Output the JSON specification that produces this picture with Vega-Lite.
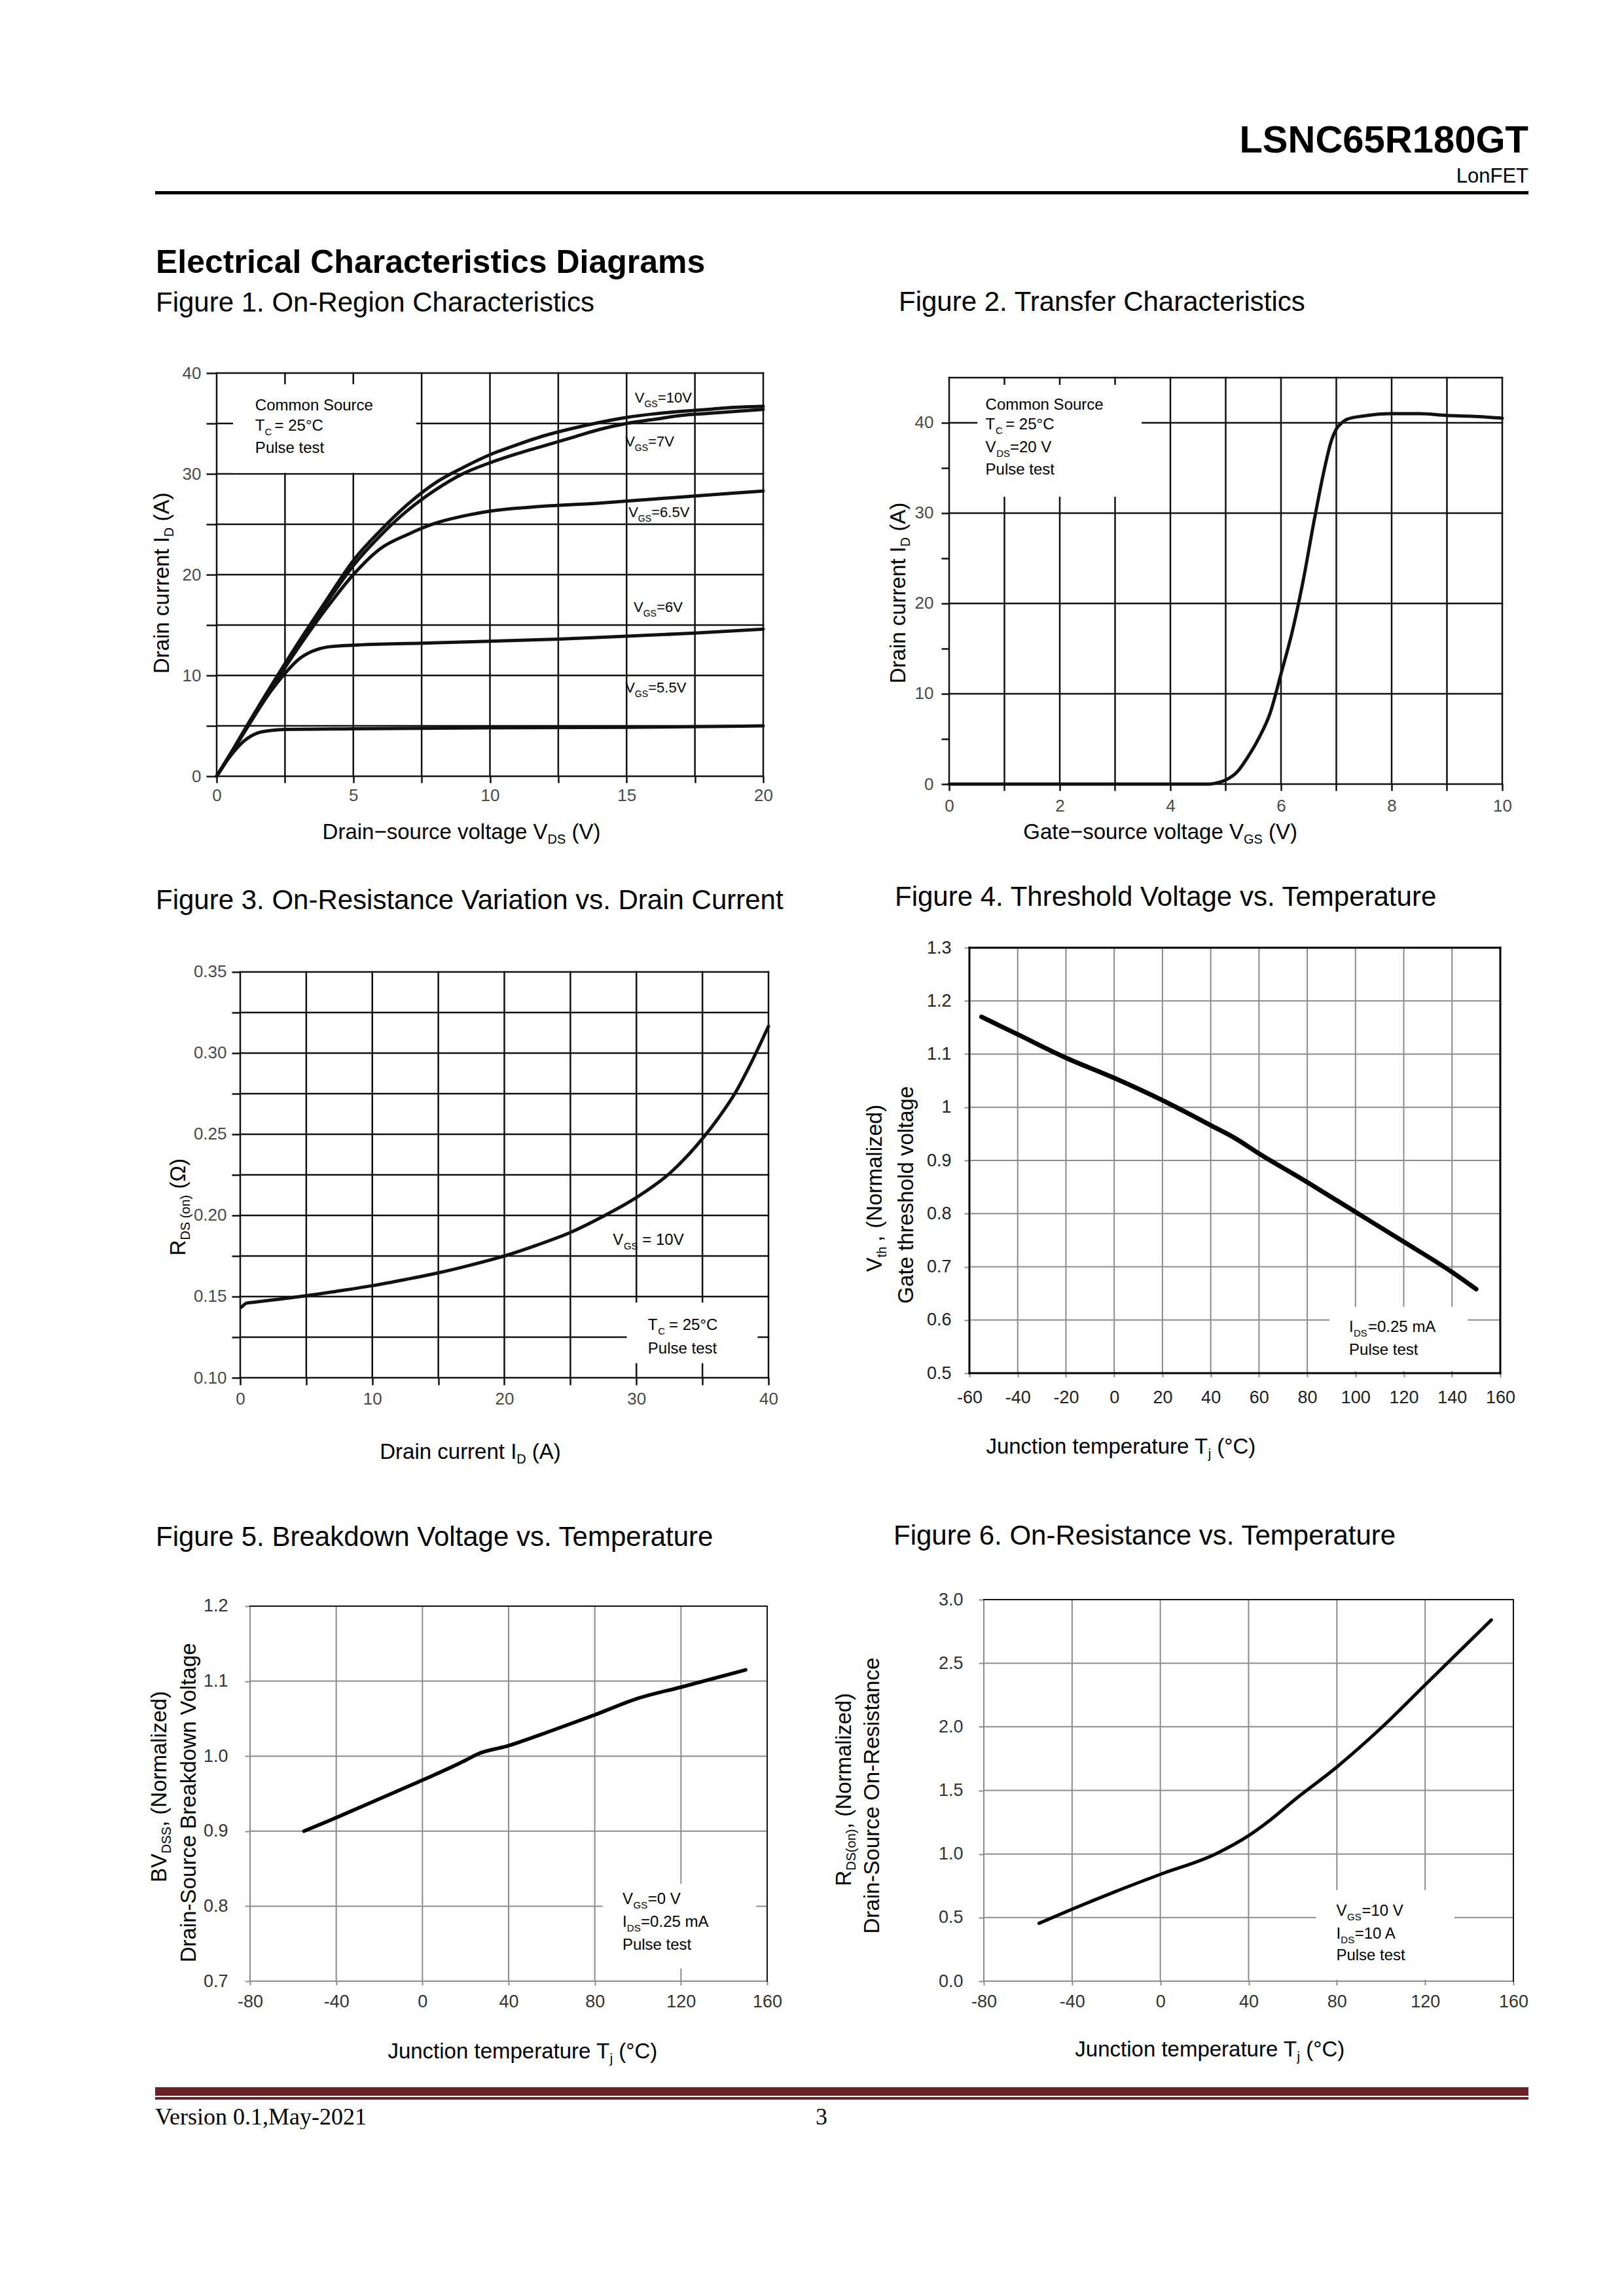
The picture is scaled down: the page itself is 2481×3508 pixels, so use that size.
{
  "$schema": "https://vega.github.io/schema/vega-lite/v6.json",
  "background": "white",
  "padding": 0,
  "autosize": {"type": "pad"},
  "columns": 3,
  "spacing": {"row": 0, "column": 0},
  "bounds": "flush",
  "align": "each",
  "datasets": {
    "f1": [
      {"s":"10V","x":0,"y":0},{"s":"10V","x":0.5,"y":2.2},{"s":"10V","x":1,"y":4.5},{"s":"10V","x":2,"y":9},{"s":"10V","x":3,"y":13.3},{"s":"10V","x":4,"y":17.4},{"s":"10V","x":5,"y":21.4},{"s":"10V","x":6,"y":24.4},{"s":"10V","x":7,"y":27},{"s":"10V","x":8,"y":29.1},{"s":"10V","x":9,"y":30.6},{"s":"10V","x":10,"y":31.9},{"s":"10V","x":11,"y":32.9},{"s":"10V","x":12,"y":33.8},{"s":"10V","x":13,"y":34.5},{"s":"10V","x":14,"y":35.1},{"s":"10V","x":15,"y":35.6},{"s":"10V","x":16,"y":35.95},{"s":"10V","x":17,"y":36.2},{"s":"10V","x":18,"y":36.4},{"s":"10V","x":19,"y":36.6},{"s":"10V","x":20,"y":36.7},
      {"s":"7V","x":0,"y":0},{"s":"7V","x":0.5,"y":2.2},{"s":"7V","x":1,"y":4.5},{"s":"7V","x":2,"y":8.9},{"s":"7V","x":3,"y":13.1},{"s":"7V","x":4,"y":17.1},{"s":"7V","x":5,"y":20.9},{"s":"7V","x":6,"y":23.9},{"s":"7V","x":7,"y":26.4},{"s":"7V","x":8,"y":28.4},{"s":"7V","x":9,"y":30},{"s":"7V","x":10,"y":31.1},{"s":"7V","x":11,"y":32},{"s":"7V","x":12,"y":32.8},{"s":"7V","x":13,"y":33.6},{"s":"7V","x":14,"y":34.4},{"s":"7V","x":15,"y":35},{"s":"7V","x":16,"y":35.4},{"s":"7V","x":17,"y":35.8},{"s":"7V","x":18,"y":36},{"s":"7V","x":19,"y":36.2},{"s":"7V","x":20,"y":36.4},
      {"s":"6.5V","x":0,"y":0},{"s":"6.5V","x":0.5,"y":2.2},{"s":"6.5V","x":1,"y":4.4},{"s":"6.5V","x":2,"y":8.7},{"s":"6.5V","x":3,"y":12.8},{"s":"6.5V","x":4,"y":16.6},{"s":"6.5V","x":5,"y":20},{"s":"6.5V","x":6,"y":22.6},{"s":"6.5V","x":7,"y":24},{"s":"6.5V","x":8,"y":25.1},{"s":"6.5V","x":9,"y":25.8},{"s":"6.5V","x":10,"y":26.3},{"s":"6.5V","x":12,"y":26.8},{"s":"6.5V","x":14,"y":27.1},{"s":"6.5V","x":16,"y":27.5},{"s":"6.5V","x":18,"y":27.9},{"s":"6.5V","x":20,"y":28.3},
      {"s":"6V","x":0,"y":0},{"s":"6V","x":0.5,"y":2.1},{"s":"6V","x":1,"y":4.3},{"s":"6V","x":2,"y":8.5},{"s":"6V","x":2.5,"y":10.2},{"s":"6V","x":3,"y":11.6},{"s":"6V","x":3.5,"y":12.4},{"s":"6V","x":4,"y":12.8},{"s":"6V","x":5,"y":13},{"s":"6V","x":7.5,"y":13.2},{"s":"6V","x":10,"y":13.4},{"s":"6V","x":12.5,"y":13.6},{"s":"6V","x":15,"y":13.9},{"s":"6V","x":17.5,"y":14.2},{"s":"6V","x":20,"y":14.6},
      {"s":"5.5V","x":0,"y":0},{"s":"5.5V","x":0.5,"y":2},{"s":"5.5V","x":1,"y":3.5},{"s":"5.5V","x":1.5,"y":4.3},{"s":"5.5V","x":2,"y":4.55},{"s":"5.5V","x":2.5,"y":4.65},{"s":"5.5V","x":5,"y":4.7},{"s":"5.5V","x":10,"y":4.8},{"s":"5.5V","x":15,"y":4.85},{"s":"5.5V","x":20,"y":5}
    ],
    "f2": [
      {"x":0,"y":0},{"x":4.7,"y":0},{"x":4.85,"y":0.15},{"x":5,"y":0.45},{"x":5.2,"y":1.3},{"x":5.4,"y":3},{"x":5.6,"y":5.1},{"x":5.8,"y":7.8},{"x":6,"y":12.2},{"x":6.2,"y":16.8},{"x":6.4,"y":22.5},{"x":6.6,"y":29.2},{"x":6.8,"y":35.3},{"x":6.9,"y":37.8},{"x":7,"y":39.3},{"x":7.1,"y":40},{"x":7.2,"y":40.4},{"x":7.5,"y":40.75},{"x":8,"y":41},{"x":8.5,"y":41},{"x":9,"y":40.8},{"x":9.5,"y":40.7},{"x":10,"y":40.5}
    ],
    "f3": [
      {"x":0.1,"y":0.1435},{"x":0.5,"y":0.146},{"x":1,"y":0.1465},{"x":2.5,"y":0.148},{"x":5,"y":0.1505},{"x":7.5,"y":0.1535},{"x":10,"y":0.1567},{"x":12.5,"y":0.1605},{"x":15,"y":0.1646},{"x":17.5,"y":0.1695},{"x":20,"y":0.175},{"x":22.5,"y":0.1818},{"x":25,"y":0.1895},{"x":27.5,"y":0.1995},{"x":30,"y":0.211},{"x":32.5,"y":0.2258},{"x":35,"y":0.2473},{"x":36.25,"y":0.2605},{"x":37.5,"y":0.2757},{"x":38.75,"y":0.295},{"x":40,"y":0.3165}
    ],
    "f4": [
      {"x":-55,"y":1.17},{"x":-40,"y":1.137},{"x":-20,"y":1.093},{"x":0,"y":1.055},{"x":20,"y":1.013},{"x":30,"y":0.99},{"x":40,"y":0.966},{"x":50,"y":0.942},{"x":60,"y":0.913},{"x":80,"y":0.859},{"x":100,"y":0.803},{"x":120,"y":0.747},{"x":140,"y":0.69},{"x":150,"y":0.658}
    ],
    "f5": [
      {"x":-55,"y":0.9},{"x":-40,"y":0.918},{"x":-20,"y":0.943},{"x":0,"y":0.968},{"x":20,"y":0.9945},{"x":25,"y":1.002},{"x":40,"y":1.014},{"x":60,"y":1.034},{"x":80,"y":1.055},{"x":100,"y":1.077},{"x":120,"y":1.092},{"x":150,"y":1.115}
    ],
    "f6": [
      {"x":-55,"y":0.455},{"x":-40,"y":0.566},{"x":-20,"y":0.707},{"x":0,"y":0.84},{"x":25,"y":1},{"x":40,"y":1.144},{"x":50,"y":1.27},{"x":60,"y":1.414},{"x":80,"y":1.684},{"x":100,"y":1.99},{"x":120,"y":2.33},{"x":140,"y":2.67},{"x":150,"y":2.84}
    ],
    "g1": [
      {"x":0,"x2":20,"y":0,"y2":0},{"x":0,"x2":20,"y":5,"y2":5},{"x":0,"x2":20,"y":10,"y2":10},{"x":0,"x2":20,"y":15,"y2":15},{"x":0,"x2":20,"y":20,"y2":20},{"x":0,"x2":20,"y":25,"y2":25},{"x":0,"x2":20,"y":30,"y2":30},{"x":0,"x2":20,"y":35,"y2":35},{"x":0,"x2":20,"y":40,"y2":40},
      {"x":0,"x2":0,"y":0,"y2":40},{"x":2.5,"x2":2.5,"y":0,"y2":40},{"x":5,"x2":5,"y":0,"y2":40},{"x":7.5,"x2":7.5,"y":0,"y2":40},{"x":10,"x2":10,"y":0,"y2":40},{"x":12.5,"x2":12.5,"y":0,"y2":40},{"x":15,"x2":15,"y":0,"y2":40},{"x":17.5,"x2":17.5,"y":0,"y2":40},{"x":20,"x2":20,"y":0,"y2":40}
    ],
    "g2": [
      {"x":0,"x2":10,"y":0,"y2":0},{"x":0,"x2":10,"y":10,"y2":10},{"x":0,"x2":10,"y":20,"y2":20},{"x":0,"x2":10,"y":30,"y2":30},{"x":0,"x2":10,"y":40,"y2":40},{"x":0,"x2":10,"y":45,"y2":45},
      {"x":0,"x2":0,"y":0,"y2":45},{"x":1,"x2":1,"y":0,"y2":45},{"x":2,"x2":2,"y":0,"y2":45},{"x":3,"x2":3,"y":0,"y2":45},{"x":4,"x2":4,"y":0,"y2":45},{"x":5,"x2":5,"y":0,"y2":45},{"x":6,"x2":6,"y":0,"y2":45},{"x":7,"x2":7,"y":0,"y2":45},{"x":8,"x2":8,"y":0,"y2":45},{"x":9,"x2":9,"y":0,"y2":45},{"x":10,"x2":10,"y":0,"y2":45}
    ],
    "g3": [
      {"x":0,"x2":40,"y":0.1,"y2":0.1},{"x":0,"x2":40,"y":0.125,"y2":0.125},{"x":0,"x2":40,"y":0.15,"y2":0.15},{"x":0,"x2":40,"y":0.175,"y2":0.175},{"x":0,"x2":40,"y":0.2,"y2":0.2},{"x":0,"x2":40,"y":0.225,"y2":0.225},{"x":0,"x2":40,"y":0.25,"y2":0.25},{"x":0,"x2":40,"y":0.275,"y2":0.275},{"x":0,"x2":40,"y":0.3,"y2":0.3},{"x":0,"x2":40,"y":0.325,"y2":0.325},{"x":0,"x2":40,"y":0.35,"y2":0.35},
      {"x":0,"x2":0,"y":0.1,"y2":0.35},{"x":5,"x2":5,"y":0.1,"y2":0.35},{"x":10,"x2":10,"y":0.1,"y2":0.35},{"x":15,"x2":15,"y":0.1,"y2":0.35},{"x":20,"x2":20,"y":0.1,"y2":0.35},{"x":25,"x2":25,"y":0.1,"y2":0.35},{"x":30,"x2":30,"y":0.1,"y2":0.35},{"x":35,"x2":35,"y":0.1,"y2":0.35},{"x":40,"x2":40,"y":0.1,"y2":0.35}
    ],
    "g4": [
      {"x":-60,"x2":160,"y":0.5,"y2":0.5},{"x":-60,"x2":160,"y":0.6,"y2":0.6},{"x":-60,"x2":160,"y":0.7,"y2":0.7},{"x":-60,"x2":160,"y":0.8,"y2":0.8},{"x":-60,"x2":160,"y":0.9,"y2":0.9},{"x":-60,"x2":160,"y":1,"y2":1},{"x":-60,"x2":160,"y":1.1,"y2":1.1},{"x":-60,"x2":160,"y":1.2,"y2":1.2},{"x":-60,"x2":160,"y":1.3,"y2":1.3},
      {"x":-60,"x2":-60,"y":0.5,"y2":1.3},{"x":-40,"x2":-40,"y":0.5,"y2":1.3},{"x":-20,"x2":-20,"y":0.5,"y2":1.3},{"x":0,"x2":0,"y":0.5,"y2":1.3},{"x":20,"x2":20,"y":0.5,"y2":1.3},{"x":40,"x2":40,"y":0.5,"y2":1.3},{"x":60,"x2":60,"y":0.5,"y2":1.3},{"x":80,"x2":80,"y":0.5,"y2":1.3},{"x":100,"x2":100,"y":0.5,"y2":1.3},{"x":120,"x2":120,"y":0.5,"y2":1.3},{"x":140,"x2":140,"y":0.5,"y2":1.3},{"x":160,"x2":160,"y":0.5,"y2":1.3}
    ],
    "g5": [
      {"x":-80,"x2":160,"y":0.7,"y2":0.7},{"x":-80,"x2":160,"y":0.8,"y2":0.8},{"x":-80,"x2":160,"y":0.9,"y2":0.9},{"x":-80,"x2":160,"y":1,"y2":1},{"x":-80,"x2":160,"y":1.1,"y2":1.1},
      {"x":-80,"x2":-80,"y":0.7,"y2":1.2},{"x":-40,"x2":-40,"y":0.7,"y2":1.2},{"x":0,"x2":0,"y":0.7,"y2":1.2},{"x":40,"x2":40,"y":0.7,"y2":1.2},{"x":80,"x2":80,"y":0.7,"y2":1.2},{"x":120,"x2":120,"y":0.7,"y2":1.2}
    ],
    "g6": [
      {"x":-80,"x2":160,"y":0,"y2":0},{"x":-80,"x2":160,"y":0.5,"y2":0.5},{"x":-80,"x2":160,"y":1,"y2":1},{"x":-80,"x2":160,"y":1.5,"y2":1.5},{"x":-80,"x2":160,"y":2,"y2":2},{"x":-80,"x2":160,"y":2.5,"y2":2.5},
      {"x":-80,"x2":-80,"y":0,"y2":3},{"x":-40,"x2":-40,"y":0,"y2":3},{"x":0,"x2":0,"y":0,"y2":3},{"x":40,"x2":40,"y":0,"y2":3},{"x":80,"x2":80,"y":0,"y2":3},{"x":120,"x2":120,"y":0,"y2":3}
    ],
    "b1": [{"x":0.6,"x2":7.3,"y":30.1,"y2":38.9}],
    "b2": [{"x":0.51,"x2":3.48,"y":31.8,"y2":44.2}],
    "b3": [{"x":29.27,"x2":39.18,"y":0.109,"y2":0.1464}],
    "b4": [{"x":89.2,"x2":146.5,"y":0.504,"y2":0.6245}],
    "b5": [{"x":83.65,"x2":154.95,"y":0.717,"y2":0.83}],
    "b6": [{"x":70.6,"x2":133.3,"y":0.012,"y2":0.715}],
    "r4": [{"x":-60,"x2":160,"y":1.3,"y2":1.3},{"x":-60,"x2":160,"y":0.5,"y2":0.5},{"x":-60,"x2":-60,"y":0.5,"y2":1.3},{"x":160,"x2":160,"y":0.5,"y2":1.3}],
    "r5": [{"x":-80,"x2":160,"y":1.2,"y2":1.2},{"x":160,"x2":160,"y":0.7,"y2":1.2}],
    "r6": [{"x":-80,"x2":160,"y":3,"y2":3},{"x":160,"x2":160,"y":0,"y2":3}],
    "t1": [
      {"part":"note","x":1.41,"y":36.27,"t":"Common Source"},
      {"part":"note","x":1.41,"y":34.3,"t":"T"},
      {"part":"noteSub","x":1.76,"y":34.3,"t":"C"},
      {"part":"note","x":2.12,"y":34.3,"t":"= 25°C"},
      {"part":"note","x":1.41,"y":32.05,"t":"Pulse test"},
      {"part":"lab","x":15.30,"y":37.1,"t":"V"},{"part":"labSub","x":15.65,"y":37.1,"t":"GS"},{"part":"lab","x":16.14,"y":37.1,"t":"=10V"},
      {"part":"lab","x":14.95,"y":32.7,"t":"V"},{"part":"labSub","x":15.30,"y":32.7,"t":"GS"},{"part":"lab","x":15.79,"y":32.7,"t":"=7V"},
      {"part":"lab","x":15.07,"y":25.7,"t":"V"},{"part":"labSub","x":15.42,"y":25.7,"t":"GS"},{"part":"lab","x":15.91,"y":25.7,"t":"=6.5V"},
      {"part":"lab","x":15.26,"y":16.3,"t":"V"},{"part":"labSub","x":15.61,"y":16.3,"t":"GS"},{"part":"lab","x":16.10,"y":16.3,"t":"=6V"},
      {"part":"lab","x":14.95,"y":8.28,"t":"V"},{"part":"labSub","x":15.30,"y":8.28,"t":"GS"},{"part":"lab","x":15.79,"y":8.28,"t":"=5.5V"},
      {"part":"title","x":3.871,"y":-6.23,"t":"Drain−source voltage V"},{"part":"titleSub","x":12.108,"y":-6.23,"t":"DS"},{"part":"title","x":12.994,"y":-6.23,"t":"(V)"},
      {"part":"ytitle","x":-1.75,"y":10.18,"t":"Drain current I"},{"part":"ytitleSub","x":-1.75,"y":23.75,"t":"D"},{"part":"ytitle","x":-1.75,"y":25.29,"t":"(A)"}
    ],
    "t2": [
      {"part":"note","x":0.658,"y":41.45,"t":"Common Source"},
      {"part":"note","x":0.658,"y":39.28,"t":"T"},{"part":"noteSub","x":0.839,"y":39.28,"t":"C"},{"part":"note","x":1.02,"y":39.28,"t":"= 25°C"},
      {"part":"note","x":0.658,"y":36.74,"t":"V"},{"part":"noteSub","x":0.855,"y":36.74,"t":"DS"},{"part":"note","x":1.10,"y":36.74,"t":"=20 V"},
      {"part":"note","x":0.658,"y":34.27,"t":"Pulse test"},
      {"part":"title","x":1.341,"y":-6.12,"t":"Gate−source voltage V"},{"part":"titleSub","x":5.324,"y":-6.12,"t":"GS"},{"part":"title","x":5.775,"y":-6.12,"t":"(V)"},
      {"part":"ytitle","x":-0.79,"y":11.14,"t":"Drain current I"},{"part":"ytitleSub","x":-0.79,"y":26.28,"t":"D"},{"part":"ytitle","x":-0.79,"y":27.99,"t":"(A)"}
    ],
    "t3": [
      {"part":"note","x":28.21,"y":0.1819,"t":"V"},{"part":"noteSub","x":29.04,"y":0.1819,"t":"GS"},{"part":"note","x":30.45,"y":0.1819,"t":"= 10V"},
      {"part":"note","x":30.87,"y":0.1294,"t":"T"},{"part":"noteSub","x":31.63,"y":0.1294,"t":"C"},{"part":"note","x":32.47,"y":0.1294,"t":"= 25°C"},
      {"part":"note","x":30.87,"y":0.1151,"t":"Pulse test"},
      {"part":"title","x":10.57,"y":0.05,"t":"Drain current I"},{"part":"titleSub","x":20.93,"y":0.05,"t":"D"},{"part":"title","x":22.10,"y":0.05,"t":"(A)"},
      {"part":"ytitle","x":-4.16,"y":0.1752,"t":"R"},{"part":"ytitleSub","x":-4.16,"y":0.1848,"t":"DS (on)"},{"part":"ytitle","x":-4.16,"y":0.2163,"t":"(Ω)"}
    ],
    "t4": [
      {"part":"note","x":97.35,"y":0.5775,"t":"I"},{"part":"noteSub","x":99.24,"y":0.5775,"t":"DS"},{"part":"note","x":105.2,"y":0.5775,"t":"=0.25 mA"},
      {"part":"note","x":97.35,"y":0.534,"t":"Pulse test"},
      {"part":"title","x":-53.11,"y":0.3492,"t":"Junction temperature T"},{"part":"titleSub","x":38.94,"y":0.3492,"t":"j"},{"part":"title","x":42.63,"y":0.3492,"t":"(°C)"},
      {"part":"ytitle","x":-96.35,"y":0.6904,"t":"V"},{"part":"ytitleSub","x":-96.35,"y":0.7175,"t":"th"},{"part":"ytitle","x":-96.35,"y":0.7474,"t":","},{"part":"ytitle","x":-96.35,"y":0.7724,"t":"(Normalized)"},
      {"part":"ytitle","x":-83.3,"y":0.6308,"t":"Gate threshold voltage"}
    ],
    "t5": [
      {"part":"note","x":92.83,"y":0.803,"t":"V"},{"part":"noteSub","x":97.9,"y":0.803,"t":"GS"},{"part":"note","x":104.6,"y":0.803,"t":"=0 V"},
      {"part":"note","x":92.83,"y":0.7722,"t":"I"},{"part":"noteSub","x":94.94,"y":0.7722,"t":"DS"},{"part":"note","x":101.4,"y":0.7722,"t":"=0.25 mA"},
      {"part":"note","x":92.83,"y":0.7421,"t":"Pulse test"},
      {"part":"title","x":-16.08,"y":0.5974,"t":"Junction temperature T"},{"part":"titleSub","x":87.0,"y":0.5974,"t":"j"},{"part":"title","x":91.13,"y":0.5974,"t":"(°C)"},
      {"part":"ytitle","x":-119.0,"y":0.8317,"t":"BV"},{"part":"ytitleSub","x":-119.0,"y":0.8701,"t":"DSS"},{"part":"ytitle","x":-119.0,"y":0.9059,"t":", (Normalized)"},
      {"part":"ytitle","x":-105.3,"y":0.725,"t":"Drain-Source Breakdown Voltage"}
    ],
    "t6": [
      {"part":"note","x":79.72,"y":0.515,"t":"V"},{"part":"noteSub","x":84.67,"y":0.515,"t":"GS"},{"part":"note","x":91.3,"y":0.515,"t":"=10 V"},
      {"part":"note","x":79.72,"y":0.3355,"t":"I"},{"part":"noteSub","x":81.78,"y":0.3355,"t":"DS"},{"part":"note","x":88.1,"y":0.3355,"t":"=10 A"},
      {"part":"note","x":79.72,"y":0.164,"t":"Pulse test"},
      {"part":"title","x":-38.67,"y":-0.592,"t":"Junction temperature T"},{"part":"titleSub","x":61.98,"y":-0.592,"t":"j"},{"part":"title","x":66.02,"y":-0.592,"t":"(°C)"},
      {"part":"ytitle","x":-140.1,"y":0.7477,"t":"R"},{"part":"ytitleSub","x":-140.1,"y":0.870,"t":"DS(on)"},{"part":"ytitle","x":-140.1,"y":1.199,"t":", (Normalized)"},
      {"part":"ytitle","x":-127.6,"y":0.373,"t":"Drain-Source On-Resistance"}
    ]
  },
  "concat": [
    {"width": 237, "height": 292, "mark": {"type": "point", "opacity": 0, "size": 0}, "encoding": {}},
    {"width": 1, "height": 1, "mark": {"type": "point", "opacity": 0, "size": 0}, "encoding": {}},
    {"width": 1, "height": 1, "mark": {"type": "point", "opacity": 0, "size": 0}, "encoding": {}},

    {"width": 237, "height": 5, "mark": {"type": "point", "opacity": 0, "size": 0}, "encoding": {}},
    {"width": 1133, "height": 5, "view": {"fill": "#000", "stroke": null}, "mark": {"type": "point", "opacity": 0, "size": 0}, "encoding": {}},
    {"width": 965, "height": 5, "view": {"fill": "#000", "stroke": null},
     "title": {"text": "LSNC65R180GT", "subtitle": "LonFET", "anchor": "end", "frame": "group", "offset": 7, "font": "Liberation Sans", "fontSize": 58, "fontWeight": "bold", "color": "#000", "subtitleFont": "Liberation Sans", "subtitleFontSize": 31, "subtitleColor": "#000", "subtitlePadding": 10},
     "mark": {"type": "point", "opacity": 0, "size": 0}, "encoding": {}},

    {"width": 237, "height": 273, "mark": {"type": "point", "opacity": 0, "size": 0}, "encoding": {}},
    {"width": 1, "height": 1, "mark": {"type": "point", "opacity": 0, "size": 0}, "encoding": {}},
    {"width": 1, "height": 1, "mark": {"type": "point", "opacity": 0, "size": 0}, "encoding": {}},

    {"width": 237, "height": 1, "mark": {"type": "point", "opacity": 0, "size": 0}, "encoding": {}},
    {
      "width": 1133, "height": 616,
      "title": {"text": "Electrical Characteristics Diagrams", "subtitle": "Figure 1. On-Region Characteristics", "anchor": "start", "frame": "group", "dx": 1, "offset": 73, "font": "Liberation Sans", "fontSize": 50, "fontWeight": "bold", "color": "#000", "subtitleFont": "Liberation Sans", "subtitleFontSize": 42, "subtitleFontWeight": "normal", "subtitleColor": "#000", "subtitlePadding": 16},
      "encoding": {
        "x": {"field": "x", "type": "quantitative", "scale": {"domain": [-2.2515, 24.8862], "nice": false, "zero": false},
          "axis": {"title": null, "values": [0,2.5,5,7.5,10,12.5,15,17.5,20], "grid": false, "domain": false, "tickColor": "#111", "tickWidth": 2.5, "tickSize": 10, "labelExpr": "datum.value % 5 == 0 ? '' + datum.value : ''", "labelFontSize": 26, "labelColor": "#4a4a4a", "labelPadding": 6, "labelFlush": false, "labelOverlap": false}},
        "y": {"field": "y", "type": "quantitative", "scale": {"domain": [0, 40], "nice": false, "zero": false},
          "axis": {"title": null, "offset": -94, "values": [0,5,10,15,20,25,30,35,40], "grid": false, "domain": false, "tickColor": "#111", "tickWidth": 2.5, "tickSize": 16, "labelExpr": "datum.value % 10 == 0 ? '' + datum.value : ''", "labelFontSize": 26, "labelColor": "#4a4a4a", "labelPadding": 8, "labelFlush": false, "labelOverlap": false}}
      },
      "layer": [
        {"data": {"name": "g1"}, "mark": {"type": "rule", "color": "#111", "strokeWidth": 2.5, "strokeCap": "square"}, "encoding": {"x2": {"field": "x2"}, "y2": {"field": "y2"}}},
        {"data": {"name": "b1"}, "mark": {"type": "rect", "color": "#ffffff"}, "encoding": {"x2": {"field": "x2"}, "y2": {"field": "y2"}}},
        {"data": {"name": "f1"}, "mark": {"type": "line", "color": "#111", "strokeWidth": 5, "interpolate": "monotone", "strokeCap": "round"}, "encoding": {"detail": {"field": "s"}}},
        {"data": {"name": "t1"}, "transform": [{"filter": "indexof(['note','lab','title'], datum.part) >= 0"}], "mark": {"type": "text", "align": "left", "baseline": "alphabetic", "color": "#000", "font": "Liberation Sans, Arial, sans-serif"},
          "encoding": {"text": {"field": "t"}, "size": {"field": "part", "type": "nominal", "legend": null, "scale": {"type": "ordinal", "domain": ["note","noteSub","lab","labSub","title","titleSub","ytitle","ytitleSub"], "range": [24,15,22,14,33,20,33,20]}}}},
        {"data": {"name": "t1"}, "transform": [{"filter": "indexof(['noteSub','labSub','titleSub'], datum.part) >= 0"}], "mark": {"type": "text", "align": "left", "baseline": "alphabetic", "dy": 7, "color": "#000", "font": "Liberation Sans, Arial, sans-serif"},
          "encoding": {"text": {"field": "t"}, "size": {"field": "part", "type": "nominal", "legend": null, "scale": {"type": "ordinal", "domain": ["note","noteSub","lab","labSub","title","titleSub","ytitle","ytitleSub"], "range": [24,15,22,14,33,20,33,20]}}}},
        {"data": {"name": "t1"}, "transform": [{"filter": "datum.part == 'ytitle'"}], "mark": {"type": "text", "align": "left", "baseline": "alphabetic", "angle": 270, "color": "#000", "font": "Liberation Sans, Arial, sans-serif"},
          "encoding": {"text": {"field": "t"}, "size": {"field": "part", "type": "nominal", "legend": null, "scale": {"type": "ordinal", "domain": ["note","noteSub","lab","labSub","title","titleSub","ytitle","ytitleSub"], "range": [24,15,22,14,33,20,33,20]}}}},
        {"data": {"name": "t1"}, "transform": [{"filter": "datum.part == 'ytitleSub'"}], "mark": {"type": "text", "align": "left", "baseline": "alphabetic", "angle": 270, "dy": 7, "color": "#000", "font": "Liberation Sans, Arial, sans-serif"},
          "encoding": {"text": {"field": "t"}, "size": {"field": "part", "type": "nominal", "legend": null, "scale": {"type": "ordinal", "domain": ["note","noteSub","lab","labSub","title","titleSub","ytitle","ytitleSub"], "range": [24,15,22,14,33,20,33,20]}}}}
      ]
    },
    {
      "width": 965, "height": 628,
      "title": {"text": "Figure 2. Transfer Characteristics", "anchor": "start", "frame": "group", "dx": 3, "offset": 86, "font": "Liberation Sans", "fontSize": 42, "fontWeight": "normal", "color": "#000"},
      "encoding": {
        "x": {"field": "x", "type": "quantitative", "scale": {"domain": [-0.9467, 10.4734], "nice": false, "zero": false},
          "axis": {"title": null, "values": [0,1,2,3,4,5,6,7,8,9,10], "grid": false, "domain": false, "tickColor": "#111", "tickWidth": 2.5, "tickSize": 10, "labelExpr": "datum.value % 2 == 0 ? '' + datum.value : ''", "labelFontSize": 26, "labelColor": "#4a4a4a", "labelPadding": 10, "labelFlush": false, "labelOverlap": false}},
        "y": {"field": "y", "type": "quantitative", "scale": {"domain": [0, 45.5], "nice": false, "zero": false},
          "axis": {"title": null, "offset": -80, "values": [0,5,10,15,20,25,30,35,40], "grid": false, "domain": false, "tickColor": "#111", "tickWidth": 2.5, "tickSize": 12, "labelExpr": "datum.value % 10 == 0 ? '' + datum.value : ''", "labelFontSize": 26, "labelColor": "#4a4a4a", "labelPadding": 12, "labelFlush": false, "labelOverlap": false}}
      },
      "layer": [
        {"data": {"name": "g2"}, "mark": {"type": "rule", "color": "#111", "strokeWidth": 2.5, "strokeCap": "square"}, "encoding": {"x2": {"field": "x2"}, "y2": {"field": "y2"}}},
        {"data": {"name": "b2"}, "mark": {"type": "rect", "color": "#ffffff"}, "encoding": {"x2": {"field": "x2"}, "y2": {"field": "y2"}}},
        {"data": {"name": "f2"}, "mark": {"type": "line", "color": "#111", "strokeWidth": 5, "interpolate": "monotone", "strokeCap": "round"}, "encoding": {}},
        {"data": {"name": "t2"}, "transform": [{"filter": "indexof(['note','lab','title'], datum.part) >= 0"}], "mark": {"type": "text", "align": "left", "baseline": "alphabetic", "color": "#000", "font": "Liberation Sans, Arial, sans-serif"},
          "encoding": {"text": {"field": "t"}, "size": {"field": "part", "type": "nominal", "legend": null, "scale": {"type": "ordinal", "domain": ["note","noteSub","lab","labSub","title","titleSub","ytitle","ytitleSub"], "range": [25,15,22,14,33,20,33,20]}}}},
        {"data": {"name": "t2"}, "transform": [{"filter": "indexof(['noteSub','labSub','titleSub'], datum.part) >= 0"}], "mark": {"type": "text", "align": "left", "baseline": "alphabetic", "dy": 7, "color": "#000", "font": "Liberation Sans, Arial, sans-serif"},
          "encoding": {"text": {"field": "t"}, "size": {"field": "part", "type": "nominal", "legend": null, "scale": {"type": "ordinal", "domain": ["note","noteSub","lab","labSub","title","titleSub","ytitle","ytitleSub"], "range": [25,15,22,14,33,20,33,20]}}}},
        {"data": {"name": "t2"}, "transform": [{"filter": "datum.part == 'ytitle'"}], "mark": {"type": "text", "align": "left", "baseline": "alphabetic", "angle": 270, "color": "#000", "font": "Liberation Sans, Arial, sans-serif"},
          "encoding": {"text": {"field": "t"}, "size": {"field": "part", "type": "nominal", "legend": null, "scale": {"type": "ordinal", "domain": ["note","noteSub","lab","labSub","title","titleSub","ytitle","ytitleSub"], "range": [25,15,22,14,33,20,33,20]}}}},
        {"data": {"name": "t2"}, "transform": [{"filter": "datum.part == 'ytitleSub'"}], "mark": {"type": "text", "align": "left", "baseline": "alphabetic", "angle": 270, "dy": 7, "color": "#000", "font": "Liberation Sans, Arial, sans-serif"},
          "encoding": {"text": {"field": "t"}, "size": {"field": "part", "type": "nominal", "legend": null, "scale": {"type": "ordinal", "domain": ["note","noteSub","lab","labSub","title","titleSub","ytitle","ytitleSub"], "range": [25,15,22,14,33,20,33,20]}}}}
      ]
    },

    {"width": 237, "height": 250, "mark": {"type": "point", "opacity": 0, "size": 0}, "encoding": {}},
    {"width": 1, "height": 1, "mark": {"type": "point", "opacity": 0, "size": 0}, "encoding": {}},
    {"width": 1, "height": 1, "mark": {"type": "point", "opacity": 0, "size": 0}, "encoding": {}},

    {"width": 237, "height": 1, "mark": {"type": "point", "opacity": 0, "size": 0}, "encoding": {}},
    {
      "width": 1133, "height": 657,
      "title": {"text": "Figure 3. On-Resistance Variation vs. Drain Current", "anchor": "start", "frame": "group", "dx": 1, "offset": 50, "font": "Liberation Sans", "fontSize": 42, "fontWeight": "normal", "color": "#000"},
      "encoding": {
        "x": {"field": "x", "type": "quantitative", "scale": {"domain": [-6.4436, 49.715], "nice": false, "zero": false},
          "axis": {"title": null, "values": [0,5,10,15,20,25,30,35,40], "grid": false, "domain": false, "tickColor": "#111", "tickWidth": 2.5, "tickSize": 11, "labelExpr": "datum.value % 10 == 0 ? '' + datum.value : ''", "labelFontSize": 26, "labelColor": "#4a4a4a", "labelPadding": 8, "labelFlush": false, "labelOverlap": false}},
        "y": {"field": "y", "type": "quantitative", "scale": {"domain": [0.1, 0.3649], "nice": false, "zero": false},
          "axis": {"title": null, "offset": -130, "values": [0.1,0.125,0.15,0.175,0.2,0.225,0.25,0.275,0.3,0.325,0.35], "grid": false, "domain": false, "tickColor": "#111", "tickWidth": 2.5, "tickSize": 13, "labelExpr": "round(datum.value * 1000) % 50 == 0 ? format(datum.value, '.2f') : ''", "labelFontSize": 26, "labelColor": "#4a4a4a", "labelPadding": 8, "labelFlush": false, "labelOverlap": false}}
      },
      "layer": [
        {"data": {"name": "g3"}, "mark": {"type": "rule", "color": "#111", "strokeWidth": 2.5, "strokeCap": "square"}, "encoding": {"x2": {"field": "x2"}, "y2": {"field": "y2"}}},
        {"data": {"name": "b3"}, "mark": {"type": "rect", "color": "#ffffff"}, "encoding": {"x2": {"field": "x2"}, "y2": {"field": "y2"}}},
        {"data": {"name": "f3"}, "mark": {"type": "line", "color": "#111", "strokeWidth": 5, "interpolate": "monotone", "strokeCap": "round"}, "encoding": {}},
        {"data": {"name": "t3"}, "transform": [{"filter": "indexof(['note','lab','title'], datum.part) >= 0"}], "mark": {"type": "text", "align": "left", "baseline": "alphabetic", "color": "#000", "font": "Liberation Sans, Arial, sans-serif"},
          "encoding": {"text": {"field": "t"}, "size": {"field": "part", "type": "nominal", "legend": null, "scale": {"type": "ordinal", "domain": ["note","noteSub","lab","labSub","title","titleSub","ytitle","ytitleSub"], "range": [25,15,22,14,33,20,33,20]}}}},
        {"data": {"name": "t3"}, "transform": [{"filter": "indexof(['noteSub','labSub','titleSub'], datum.part) >= 0"}], "mark": {"type": "text", "align": "left", "baseline": "alphabetic", "dy": 7, "color": "#000", "font": "Liberation Sans, Arial, sans-serif"},
          "encoding": {"text": {"field": "t"}, "size": {"field": "part", "type": "nominal", "legend": null, "scale": {"type": "ordinal", "domain": ["note","noteSub","lab","labSub","title","titleSub","ytitle","ytitleSub"], "range": [25,15,22,14,33,20,33,20]}}}},
        {"data": {"name": "t3"}, "transform": [{"filter": "datum.part == 'ytitle'"}], "mark": {"type": "text", "align": "left", "baseline": "alphabetic", "angle": 270, "color": "#000", "font": "Liberation Sans, Arial, sans-serif"},
          "encoding": {"text": {"field": "t"}, "size": {"field": "part", "type": "nominal", "legend": null, "scale": {"type": "ordinal", "domain": ["note","noteSub","lab","labSub","title","titleSub","ytitle","ytitleSub"], "range": [25,15,22,14,33,20,33,20]}}}},
        {"data": {"name": "t3"}, "transform": [{"filter": "datum.part == 'ytitleSub'"}], "mark": {"type": "text", "align": "left", "baseline": "alphabetic", "angle": 270, "dy": 7, "color": "#000", "font": "Liberation Sans, Arial, sans-serif"},
          "encoding": {"text": {"field": "t"}, "size": {"field": "part", "type": "nominal", "legend": null, "scale": {"type": "ordinal", "domain": ["note","noteSub","lab","labSub","title","titleSub","ytitle","ytitleSub"], "range": [25,15,22,14,33,20,33,20]}}}}
      ]
    },
    {
      "width": 965, "height": 650,
      "title": {"text": "Figure 4. Threshold Voltage vs. Temperature", "anchor": "start", "frame": "group", "dx": -3, "offset": 41, "font": "Liberation Sans", "fontSize": 42, "fontWeight": "normal", "color": "#000"},
      "encoding": {
        "x": {"field": "x", "type": "quantitative", "scale": {"domain": [-90.1111, 171.6646], "nice": false, "zero": false},
          "axis": {"title": null, "values": [-60,-40,-20,0,20,40,60,80,100,120,140,160], "grid": false, "domain": false, "tickColor": "#8c8c8c", "tickWidth": 2, "tickSize": 6, "labelExpr": "replace(format(datum.value, 'd'), '−', '-')", "labelFontSize": 27, "labelColor": "#222", "labelPadding": 18, "labelFlush": false, "labelOverlap": false}},
        "y": {"field": "y", "type": "quantitative", "scale": {"domain": [0.5, 1.3], "nice": false, "zero": false},
          "axis": {"title": null, "offset": -111, "values": [0.5,0.6,0.7,0.8,0.9,1,1.1,1.2,1.3], "grid": false, "domain": false, "tickColor": "#8c8c8c", "tickWidth": 2, "tickSize": 8, "labelExpr": "format(datum.value, '.1~f')", "labelFontSize": 27, "labelColor": "#222", "labelPadding": 20, "labelFlush": false, "labelOverlap": false}}
      },
      "layer": [
        {"data": {"name": "g4"}, "mark": {"type": "rule", "color": "#8c8c8c", "strokeWidth": 2}, "encoding": {"x2": {"field": "x2"}, "y2": {"field": "y2"}}},
        {"data": {"name": "b4"}, "mark": {"type": "rect", "color": "#ffffff"}, "encoding": {"x2": {"field": "x2"}, "y2": {"field": "y2"}}},
        {"data": {"name": "r4"}, "mark": {"type": "rule", "color": "#000", "strokeWidth": 3, "strokeCap": "square"}, "encoding": {"x2": {"field": "x2"}, "y2": {"field": "y2"}}},
        {"data": {"name": "f4"}, "mark": {"type": "line", "color": "#000", "strokeWidth": 7, "interpolate": "monotone", "strokeCap": "round"}, "encoding": {}},
        {"data": {"name": "t4"}, "transform": [{"filter": "indexof(['note','lab','title'], datum.part) >= 0"}], "mark": {"type": "text", "align": "left", "baseline": "alphabetic", "color": "#000", "font": "Liberation Sans, Arial, sans-serif"},
          "encoding": {"text": {"field": "t"}, "size": {"field": "part", "type": "nominal", "legend": null, "scale": {"type": "ordinal", "domain": ["note","noteSub","lab","labSub","title","titleSub","ytitle","ytitleSub"], "range": [25,15,22,14,33,20,33,20]}}}},
        {"data": {"name": "t4"}, "transform": [{"filter": "indexof(['noteSub','labSub','titleSub'], datum.part) >= 0"}], "mark": {"type": "text", "align": "left", "baseline": "alphabetic", "dy": 7, "color": "#000", "font": "Liberation Sans, Arial, sans-serif"},
          "encoding": {"text": {"field": "t"}, "size": {"field": "part", "type": "nominal", "legend": null, "scale": {"type": "ordinal", "domain": ["note","noteSub","lab","labSub","title","titleSub","ytitle","ytitleSub"], "range": [25,15,22,14,33,20,33,20]}}}},
        {"data": {"name": "t4"}, "transform": [{"filter": "datum.part == 'ytitle'"}], "mark": {"type": "text", "align": "left", "baseline": "alphabetic", "angle": 270, "color": "#000", "font": "Liberation Sans, Arial, sans-serif"},
          "encoding": {"text": {"field": "t"}, "size": {"field": "part", "type": "nominal", "legend": null, "scale": {"type": "ordinal", "domain": ["note","noteSub","lab","labSub","title","titleSub","ytitle","ytitleSub"], "range": [25,15,22,14,33,20,33,20]}}}},
        {"data": {"name": "t4"}, "transform": [{"filter": "datum.part == 'ytitleSub'"}], "mark": {"type": "text", "align": "left", "baseline": "alphabetic", "angle": 270, "dy": 7, "color": "#000", "font": "Liberation Sans, Arial, sans-serif"},
          "encoding": {"text": {"field": "t"}, "size": {"field": "part", "type": "nominal", "legend": null, "scale": {"type": "ordinal", "domain": ["note","noteSub","lab","labSub","title","titleSub","ytitle","ytitleSub"], "range": [25,15,22,14,33,20,33,20]}}}}
      ]
    },

    {"width": 237, "height": 339, "mark": {"type": "point", "opacity": 0, "size": 0}, "encoding": {}},
    {"width": 1, "height": 1, "mark": {"type": "point", "opacity": 0, "size": 0}, "encoding": {}},
    {"width": 1, "height": 1, "mark": {"type": "point", "opacity": 0, "size": 0}, "encoding": {}},

    {"width": 237, "height": 1, "mark": {"type": "point", "opacity": 0, "size": 0}, "encoding": {}},
    {
      "width": 1133, "height": 583,
      "title": {"text": "Figure 5. Breakdown Voltage vs. Temperature", "anchor": "start", "frame": "group", "dx": 1, "offset": 69, "font": "Liberation Sans", "fontSize": 42, "fontWeight": "normal", "color": "#000"},
      "encoding": {
        "x": {"field": "x", "type": "quantitative", "scale": {"domain": [-124.0506, 220.1519], "nice": false, "zero": false},
          "axis": {"title": null, "values": [-80,-40,0,40,80,120,160], "grid": false, "domain": false, "tickColor": "#8c8c8c", "tickWidth": 2, "tickSize": 6, "labelExpr": "replace(format(datum.value, 'd'), '−', '-')", "labelFontSize": 27, "labelColor": "#333", "labelPadding": 12, "labelFlush": false, "labelOverlap": false}},
        "y": {"field": "y", "type": "quantitative", "scale": {"domain": [0.7, 1.2087], "nice": false, "zero": false},
          "axis": {"title": null, "offset": -145, "values": [0.7,0.8,0.9,1.0,1.1,1.2], "grid": false, "domain": false, "tickColor": "#8c8c8c", "tickWidth": 2, "tickSize": 8, "labelExpr": "format(datum.value, '.1f')", "labelFontSize": 27, "labelColor": "#333", "labelPadding": 26, "labelFlush": false, "labelOverlap": false}}
      },
      "layer": [
        {"data": {"name": "g5"}, "mark": {"type": "rule", "color": "#8c8c8c", "strokeWidth": 2}, "encoding": {"x2": {"field": "x2"}, "y2": {"field": "y2"}}},
        {"data": {"name": "b5"}, "mark": {"type": "rect", "color": "#ffffff"}, "encoding": {"x2": {"field": "x2"}, "y2": {"field": "y2"}}},
        {"data": {"name": "r5"}, "mark": {"type": "rule", "color": "#111", "strokeWidth": 2, "strokeCap": "square"}, "encoding": {"x2": {"field": "x2"}, "y2": {"field": "y2"}}},
        {"data": {"name": "f5"}, "mark": {"type": "line", "color": "#000", "strokeWidth": 5.5, "interpolate": "monotone", "strokeCap": "round"}, "encoding": {}},
        {"data": {"name": "t5"}, "transform": [{"filter": "indexof(['note','lab','title'], datum.part) >= 0"}], "mark": {"type": "text", "align": "left", "baseline": "alphabetic", "color": "#000", "font": "Liberation Sans, Arial, sans-serif"},
          "encoding": {"text": {"field": "t"}, "size": {"field": "part", "type": "nominal", "legend": null, "scale": {"type": "ordinal", "domain": ["note","noteSub","lab","labSub","title","titleSub","ytitle","ytitleSub"], "range": [25,15,22,14,33,20,33,20]}}}},
        {"data": {"name": "t5"}, "transform": [{"filter": "indexof(['noteSub','labSub','titleSub'], datum.part) >= 0"}], "mark": {"type": "text", "align": "left", "baseline": "alphabetic", "dy": 7, "color": "#000", "font": "Liberation Sans, Arial, sans-serif"},
          "encoding": {"text": {"field": "t"}, "size": {"field": "part", "type": "nominal", "legend": null, "scale": {"type": "ordinal", "domain": ["note","noteSub","lab","labSub","title","titleSub","ytitle","ytitleSub"], "range": [25,15,22,14,33,20,33,20]}}}},
        {"data": {"name": "t5"}, "transform": [{"filter": "datum.part == 'ytitle'"}], "mark": {"type": "text", "align": "left", "baseline": "alphabetic", "angle": 270, "color": "#000", "font": "Liberation Sans, Arial, sans-serif"},
          "encoding": {"text": {"field": "t"}, "size": {"field": "part", "type": "nominal", "legend": null, "scale": {"type": "ordinal", "domain": ["note","noteSub","lab","labSub","title","titleSub","ytitle","ytitleSub"], "range": [25,15,22,14,33,20,33,20]}}}},
        {"data": {"name": "t5"}, "transform": [{"filter": "datum.part == 'ytitleSub'"}], "mark": {"type": "text", "align": "left", "baseline": "alphabetic", "angle": 270, "dy": 7, "color": "#000", "font": "Liberation Sans, Arial, sans-serif"},
          "encoding": {"text": {"field": "t"}, "size": {"field": "part", "type": "nominal", "legend": null, "scale": {"type": "ordinal", "domain": ["note","noteSub","lab","labSub","title","titleSub","ytitle","ytitleSub"], "range": [25,15,22,14,33,20,33,20]}}}}
      ]
    },
    {
      "width": 965, "height": 583,
      "title": {"text": "Figure 6. On-Resistance vs. Temperature", "anchor": "start", "frame": "group", "dx": -5, "offset": 61, "font": "Liberation Sans", "fontSize": 42, "fontWeight": "normal", "color": "#000"},
      "encoding": {
        "x": {"field": "x", "type": "quantitative", "scale": {"domain": [-119.4561, 166.8232], "nice": false, "zero": false},
          "axis": {"title": null, "values": [-80,-40,0,40,80,120,160], "grid": false, "domain": false, "tickColor": "#8c8c8c", "tickWidth": 2, "tickSize": 6, "labelExpr": "replace(format(datum.value, 'd'), '−', '-')", "labelFontSize": 27, "labelColor": "#333", "labelPadding": 12, "labelFlush": false, "labelOverlap": false}},
        "y": {"field": "y", "type": "quantitative", "scale": {"domain": [0, 3], "nice": false, "zero": false},
          "axis": {"title": null, "offset": -133, "values": [0,0.5,1,1.5,2,2.5,3], "grid": false, "domain": false, "tickColor": "#8c8c8c", "tickWidth": 2, "tickSize": 8, "labelExpr": "format(datum.value, '.1f')", "labelFontSize": 27, "labelColor": "#333", "labelPadding": 24, "labelFlush": false, "labelOverlap": false}}
      },
      "layer": [
        {"data": {"name": "g6"}, "mark": {"type": "rule", "color": "#8c8c8c", "strokeWidth": 2}, "encoding": {"x2": {"field": "x2"}, "y2": {"field": "y2"}}},
        {"data": {"name": "b6"}, "mark": {"type": "rect", "color": "#ffffff"}, "encoding": {"x2": {"field": "x2"}, "y2": {"field": "y2"}}},
        {"data": {"name": "r6"}, "mark": {"type": "rule", "color": "#111", "strokeWidth": 2, "strokeCap": "square"}, "encoding": {"x2": {"field": "x2"}, "y2": {"field": "y2"}}},
        {"data": {"name": "f6"}, "mark": {"type": "line", "color": "#000", "strokeWidth": 5, "interpolate": "monotone", "strokeCap": "round"}, "encoding": {}},
        {"data": {"name": "t6"}, "transform": [{"filter": "indexof(['note','lab','title'], datum.part) >= 0"}], "mark": {"type": "text", "align": "left", "baseline": "alphabetic", "color": "#000", "font": "Liberation Sans, Arial, sans-serif"},
          "encoding": {"text": {"field": "t"}, "size": {"field": "part", "type": "nominal", "legend": null, "scale": {"type": "ordinal", "domain": ["note","noteSub","lab","labSub","title","titleSub","ytitle","ytitleSub"], "range": [25,15,22,14,33,20,33,20]}}}},
        {"data": {"name": "t6"}, "transform": [{"filter": "indexof(['noteSub','labSub','titleSub'], datum.part) >= 0"}], "mark": {"type": "text", "align": "left", "baseline": "alphabetic", "dy": 7, "color": "#000", "font": "Liberation Sans, Arial, sans-serif"},
          "encoding": {"text": {"field": "t"}, "size": {"field": "part", "type": "nominal", "legend": null, "scale": {"type": "ordinal", "domain": ["note","noteSub","lab","labSub","title","titleSub","ytitle","ytitleSub"], "range": [25,15,22,14,33,20,33,20]}}}},
        {"data": {"name": "t6"}, "transform": [{"filter": "datum.part == 'ytitle'"}], "mark": {"type": "text", "align": "left", "baseline": "alphabetic", "angle": 270, "color": "#000", "font": "Liberation Sans, Arial, sans-serif"},
          "encoding": {"text": {"field": "t"}, "size": {"field": "part", "type": "nominal", "legend": null, "scale": {"type": "ordinal", "domain": ["note","noteSub","lab","labSub","title","titleSub","ytitle","ytitleSub"], "range": [25,15,22,14,33,20,33,20]}}}},
        {"data": {"name": "t6"}, "transform": [{"filter": "datum.part == 'ytitleSub'"}], "mark": {"type": "text", "align": "left", "baseline": "alphabetic", "angle": 270, "dy": 7, "color": "#000", "font": "Liberation Sans, Arial, sans-serif"},
          "encoding": {"text": {"field": "t"}, "size": {"field": "part", "type": "nominal", "legend": null, "scale": {"type": "ordinal", "domain": ["note","noteSub","lab","labSub","title","titleSub","ytitle","ytitleSub"], "range": [25,15,22,14,33,20,33,20]}}}}
      ]
    },

    {"width": 237, "height": 162, "mark": {"type": "point", "opacity": 0, "size": 0}, "encoding": {}},
    {"width": 1, "height": 1, "mark": {"type": "point", "opacity": 0, "size": 0}, "encoding": {}},
    {"width": 1, "height": 1, "mark": {"type": "point", "opacity": 0, "size": 0}, "encoding": {}},

    {"width": 237, "height": 13, "mark": {"type": "point", "opacity": 0, "size": 0}, "encoding": {}},
    {"width": 1133, "height": 13, "view": {"fill": "#6b2125", "stroke": null}, "mark": {"type": "point", "opacity": 0, "size": 0}, "encoding": {}},
    {"width": 965, "height": 13, "view": {"fill": "#6b2125", "stroke": null}, "mark": {"type": "point", "opacity": 0, "size": 0}, "encoding": {}},

    {"width": 237, "height": 2, "mark": {"type": "point", "opacity": 0, "size": 0}, "encoding": {}},
    {"width": 1, "height": 1, "mark": {"type": "point", "opacity": 0, "size": 0}, "encoding": {}},
    {"width": 1, "height": 1, "mark": {"type": "point", "opacity": 0, "size": 0}, "encoding": {}},

    {"width": 237, "height": 4, "mark": {"type": "point", "opacity": 0, "size": 0}, "encoding": {}},
    {"width": 1133, "height": 4, "view": {"fill": "#6b2125", "stroke": null}, "mark": {"type": "point", "opacity": 0, "size": 0}, "encoding": {}},
    {"width": 965, "height": 4, "view": {"fill": "#6b2125", "stroke": null}, "mark": {"type": "point", "opacity": 0, "size": 0}, "encoding": {}},

    {"width": 237, "height": 1,
     "title": {"text": "Version 0.1,May-2021", "orient": "bottom", "anchor": "start", "frame": "group", "dx": 237, "offset": 9, "font": "Liberation Serif", "fontSize": 36, "fontWeight": "normal", "color": "#000"},
     "mark": {"type": "point", "opacity": 0, "size": 0}, "encoding": {}},
    {"width": 1, "height": 1,
     "title": {"text": "3", "orient": "bottom", "anchor": "start", "frame": "group", "dx": 1009, "offset": 9, "font": "Liberation Serif", "fontSize": 36, "fontWeight": "normal", "color": "#000"},
     "mark": {"type": "point", "opacity": 0, "size": 0}, "encoding": {}},
    {"width": 1, "height": 1, "mark": {"type": "point", "opacity": 0, "size": 0}, "encoding": {}}
  ],
  "config": {
    "view": {"stroke": null},
    "font": "Liberation Sans",
    "axis": {"labelFont": "Liberation Sans Narrow, Liberation Sans, Arial, sans-serif"}
  }
}
